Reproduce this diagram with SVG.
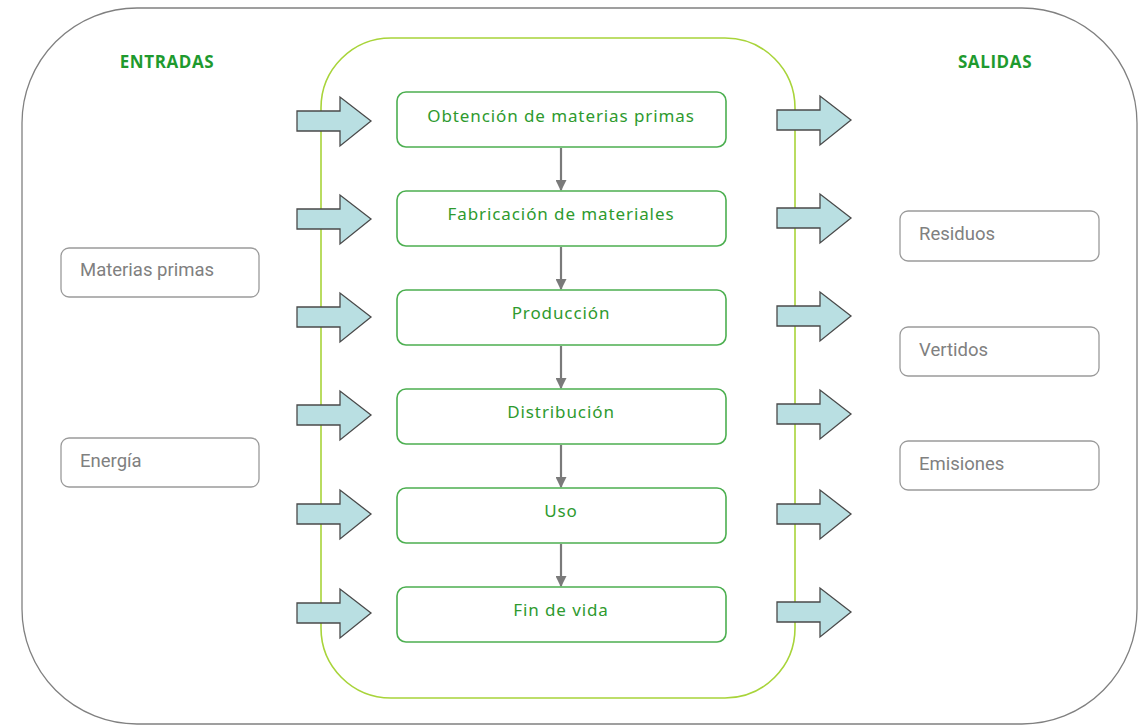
<svg xmlns="http://www.w3.org/2000/svg" width="1147" height="725" viewBox="0 0 1147 725">
<style>
.proc rect{fill:#fff;stroke:#4caf50;stroke-width:1.6}
.proc text{font-family:"Noto Sans","Open Sans",sans-serif;font-size:17px;fill:#2e9a2e;text-anchor:middle;letter-spacing:0.9px}
.io rect{fill:#fff;stroke:#9a9a9a;stroke-width:1.3}
.io text{font-family:Roboto,"Liberation Sans",sans-serif;font-size:18.5px;fill:#808080}
.title{font-family:"Open Sans","Noto Sans",sans-serif;font-size:17px;font-weight:bold;fill:#1e9a2e;text-anchor:middle;letter-spacing:0.6px}
.blk{fill:#b9dfe2;stroke:#4a4a4a;stroke-width:1.3;stroke-linejoin:miter}
.conn{stroke:#7a7a7a;stroke-width:2.2;fill:none}
</style>
<defs>
<marker id="ah" viewBox="0 0 10 10" refX="9" refY="5" markerWidth="5" markerHeight="5" orient="auto" markerUnits="strokeWidth">
<path d="M0,0 L10,5 L0,10 z" fill="#7a7a7a"/>
</marker>
<path id="barrow" d="M0,-10 L43,-10 L43,-24 L74,0 L43,25 L43,10 L0,10 z"/>
</defs>
<rect width="1147" height="725" fill="#fff"/>
<g id="outer"><rect x="22" y="8" width="1115" height="716" rx="115" ry="115" fill="none" stroke="#808080" stroke-width="1.3"/></g>
<g id="lifecycle"><rect x="321" y="38" width="474" height="660" rx="70" ry="70" fill="none" stroke="#a8d43a" stroke-width="1.6"/></g>
<text class="title" x="167" y="68">ENTRADAS</text>
<text class="title" x="995" y="68">SALIDAS</text>
<g id="flows-in">
<use href="#barrow" class="blk" x="297" y="121"/>
<use href="#barrow" class="blk" x="297" y="219"/>
<use href="#barrow" class="blk" x="297" y="317"/>
<use href="#barrow" class="blk" x="297" y="415"/>
<use href="#barrow" class="blk" x="297" y="514"/>
<use href="#barrow" class="blk" x="297" y="613"/>
</g>
<g id="flows-out">
<use href="#barrow" class="blk" x="777" y="120"/>
<use href="#barrow" class="blk" x="777" y="218"/>
<use href="#barrow" class="blk" x="777" y="316"/>
<use href="#barrow" class="blk" x="777" y="414"/>
<use href="#barrow" class="blk" x="777" y="514"/>
<use href="#barrow" class="blk" x="777" y="612"/>
</g>
<g id="connectors">
<line class="conn" x1="561" y1="148" x2="561" y2="190" marker-end="url(#ah)"/>
<line class="conn" x1="561" y1="247" x2="561" y2="289" marker-end="url(#ah)"/>
<line class="conn" x1="561" y1="346" x2="561" y2="388" marker-end="url(#ah)"/>
<line class="conn" x1="561" y1="445" x2="561" y2="487" marker-end="url(#ah)"/>
<line class="conn" x1="561" y1="544" x2="561" y2="586" marker-end="url(#ah)"/>
</g>
<g id="p1" class="proc"><rect x="397" y="92" width="329" height="55" rx="9"/><text x="561" y="122">Obtención de materias primas</text></g>
<g id="p2" class="proc"><rect x="397" y="191" width="329" height="55" rx="9"/><text x="561" y="220">Fabricación de materiales</text></g>
<g id="p3" class="proc"><rect x="397" y="290" width="329" height="55" rx="9"/><text x="561" y="319">Producción</text></g>
<g id="p4" class="proc"><rect x="397" y="389" width="329" height="55" rx="9"/><text x="561" y="418">Distribución</text></g>
<g id="p5" class="proc"><rect x="397" y="488" width="329" height="55" rx="9"/><text x="561" y="517">Uso</text></g>
<g id="p6" class="proc"><rect x="397" y="587" width="329" height="55" rx="9"/><text x="561" y="616">Fin de vida</text></g>
<g id="in1" class="io"><rect x="61" y="248" width="198" height="49" rx="8"/><text x="80" y="276">Materias primas</text></g>
<g id="in2" class="io"><rect x="61" y="438" width="198" height="49" rx="8"/><text x="80" y="467">Energía</text></g>
<g id="out1" class="io"><rect x="900" y="211" width="199" height="50" rx="8"/><text x="919" y="240">Residuos</text></g>
<g id="out2" class="io"><rect x="900" y="327" width="199" height="49" rx="8"/><text x="919" y="356">Vertidos</text></g>
<g id="out3" class="io"><rect x="900" y="441" width="199" height="49" rx="8"/><text x="919" y="470">Emisiones</text></g>
</svg>
